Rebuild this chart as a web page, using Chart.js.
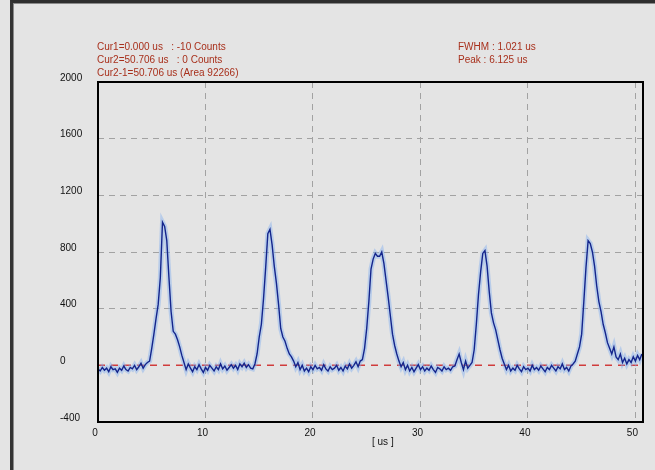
<!DOCTYPE html>
<html lang="en">
<head>
<meta charset="UTF-8" />
<meta name="viewport" content="width=device-width, initial-scale=1.0" />
<title>Pulse Trace</title>
<script src="https://cdn.jsdelivr.net/npm/chart.js"></script>
<style>
  html, body { margin: 0; padding: 0; }
  body {
    width: 655px; height: 470px; position: relative; overflow: hidden;
    background: #e4e4e4; font-family: "Liberation Sans", Arial, sans-serif;
  }
  #frame {
    position: absolute; left: 10px; top: 0; right: 0; bottom: 0;
    border-top: 3px solid #2e2e2e; border-left: 3px solid #333;
    box-shadow: inset 1px 1px 0 #8a8a8a;
  }
  #chartBox { position: absolute; left: 0; top: 0; width: 655px; height: 470px; }
  .note { position: absolute; font-size: 10px; line-height: 13px; color: #a8301c; white-space: pre; }
  #unitLabel { position: absolute; left: 372px; top: 436px; font-size: 10px; color: #111; white-space: pre; }
</style>
</head>
<body>
  <div id="frame"></div>
  <div id="chartBox"><canvas id="traceChart"></canvas></div>
  <div class="note" id="cursorNotes" style="left:97px; top:40px;"></div>
  <div class="note" id="peakNotes" style="left:458px; top:40px;"></div>
  <div id="unitLabel">[ us ]</div>

  <script>
    // sampled every 0.2 us, one row = 2 us
    const sampleStepUs = 0.2;
    const counts = [
      -25, -40, -15, -35, -20, -45, -10, -30, -25, -50,
      -20, -35, -5, -30, -40, -15, -25, 0, -30, -10,
      15, -20, 5, 20, 30, 120, 220, 330, 430, 620,
      1010, 980, 880, 620, 380, 240, 220, 180, 130, 70,
      20, -30, 10, -20, -45, -10, -30, 5, -25, -50,
      -15, -35, 0, -20, -40, -10, -30, 10, -25, -5,
      -35, -15, 5, -20, 0, -30, 10, -10, 15, -15,
      5, -20, -25, 10, 80, 200, 290, 470, 690, 930,
      960, 850, 700, 580, 430, 260, 200, 170, 120, 80,
      60, 30, -10, 20, -30, 0, -40, -20, -45, -10,
      -30, 0, -25, -15, -35, 5, -25, -40, -10, -30,
      -20, 0, -35, -15, -40, -5, -25, 10, -20, 0,
      25, -10, 30, 40, 120, 260, 450, 680, 750, 790,
      770, 770, 800, 720, 600, 480, 350, 220, 140, 80,
      30, -10, 20, -30, 0, -40, -15, -45, -20, 5,
      -30, -10, -40, -20, -35, -5, -30, -50, -15, -25,
      -40, -10, -30, -20, -35, -10, -5, 40, 80, 20,
      -30, 30, -20, 0, 20, 110, 290, 500, 660, 790,
      810, 700, 520, 370, 300, 250, 180, 110, 50, 10,
      -30, 0, -40, -20, -35, 0, -25, -45, -10, -30,
      -20, -40, 0, -30, -15, -35, -5, -25, -45, -15,
      -30, 0, -20, -40, -10, -25, 10, -30, -15, -40,
      -5, 10, 30, 80, 130, 220, 450, 690, 880, 860,
      800, 700, 560, 450, 380, 290, 230, 160, 120, 80,
      130, 60, 40, 80, 20, 50, 10, 40, 20, 60,
      30, 70, 40, 80
    ];
    const cursorUs = [0, 50.706];
    const cursorCounts = [0, 0];
    const xRange = [0, 50.706];
    const yRange = [-400, 2000];
    const xStep = 10;
    const yStep = 400;
    const cursorLines = [
      'Cur1=0.000 us   : -10 Counts',
      'Cur2=50.706 us   : 0 Counts',
      'Cur2-1=50.706 us (Area 92266)'
    ];
    const peakLines = [
      'FWHM : 1.021 us',
      'Peak : 6.125 us'
    ];

    document.getElementById('cursorNotes').textContent = cursorLines.join('\n');
    document.getElementById('peakNotes').textContent = peakLines.join('\n');

    const trace = counts.map((c, i) => ({ x: +(i * sampleStepUs).toFixed(1), y: c }));
    const cursorLine = cursorUs.map((t, i) => ({ x: t, y: cursorCounts[i] }));

    const frameBox = {
      id: 'frameBox',
      afterDraw(chart) {
        const { ctx, chartArea: a } = chart;
        ctx.save();
        ctx.strokeStyle = '#000';
        ctx.lineWidth = 2;
        ctx.strokeRect(a.left, a.top, a.right - a.left, a.bottom - a.top);
        ctx.restore();
      }
    };

    Chart.defaults.font.family = '"Liberation Sans", Arial, sans-serif';
    Chart.defaults.font.size = 10;
    Chart.defaults.color = '#111';

    new Chart(document.getElementById('traceChart'), {
      type: 'line',
      data: {
        datasets: [
          { data: trace, borderColor: '#14258c', borderWidth: 1.4, pointRadius: 0, tension: 0 },
          { data: trace, borderColor: 'rgba(130,175,240,0.45)', borderWidth: 5, pointRadius: 0, tension: 0 },
          { data: cursorLine, borderColor: '#d03c3c', borderWidth: 1.5, borderDash: [7, 6], pointRadius: 0 }
        ]
      },
      options: {
        responsive: true,
        maintainAspectRatio: false,
        animation: false,
        layout: { padding: { left: 60, top: 82, right: 12, bottom: 0 } },
        plugins: { legend: { display: false }, tooltip: { enabled: false } },
        scales: {
          x: {
            type: 'linear',
            min: xRange[0],
            max: xRange[1],
            afterFit: s => { s.height = 48; },
            ticks: { stepSize: xStep, includeBounds: false, padding: 5, labelOffset: -3, maxRotation: 0,
                     callback: v => String(v) },
            grid: { color: '#a2a2a2', lineWidth: 1, drawTicks: false },
            border: { display: false, dash: [6, 5] }
          },
          y: {
            min: yRange[0],
            max: yRange[1],
            afterFit: s => { s.width = 38; },
            ticks: { stepSize: yStep, crossAlign: 'far', labelOffset: -4, callback: v => String(v) },
            grid: {
              color: c => (c.tick && c.tick.value === 0 ? 'rgba(0,0,0,0)' : '#a2a2a2'),
              lineWidth: 1, drawTicks: false
            },
            border: { display: false, dash: [6, 5] }
          }
        }
      },
      plugins: [frameBox]
    });
  </script>
</body>
</html>
